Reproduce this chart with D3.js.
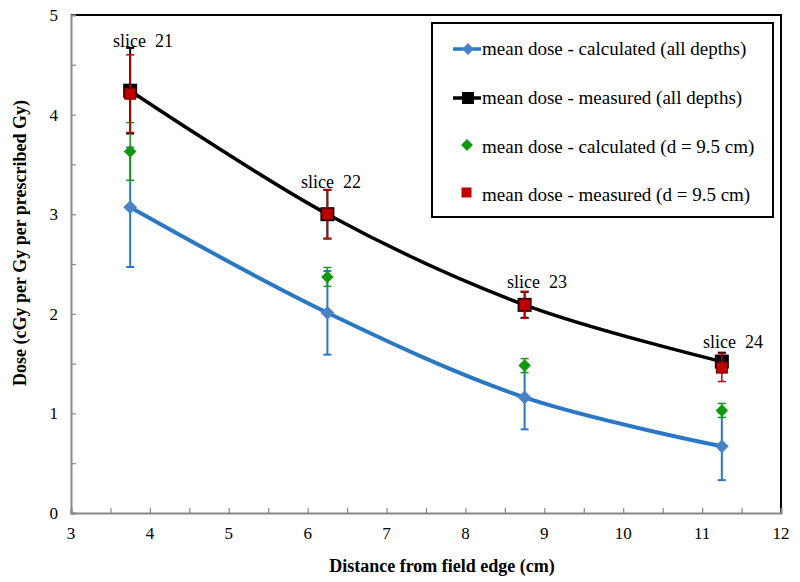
<!DOCTYPE html>
<html><head><meta charset="utf-8">
<script src="https://cdn.jsdelivr.net/npm/d3@7"></script>
<style>
html,body{margin:0;padding:0;background:#fff;}
svg{display:block;}
svg text{font-family:'Liberation Serif',serif !important;}
</style></head>
<body><svg id="fig" width="800" height="582"></svg>
<script>
const distances = [3.75, 6.25, 8.75, 11.25];
const sliceLabels = ["slice  21", "slice  22", "slice  23", "slice  24"];
const calcAll = [3.07, 2.01, 1.16, 0.67];
const calcAllErr = [0.60, 0.42, 0.32, 0.34];
const measAll = [4.24, 3.00, 2.09, 1.52];
const measAllErr = [0.43, 0.245, 0.13, 0.09];
const calc95 = [3.63, 2.37, 1.48, 1.03];
const calc95Err = [0.29, 0.095, 0.07, 0.07];
const meas95 = [4.21, 3.00, 2.09, 1.46];
const meas95Err = [0.39, 0.245, 0.135, 0.14];
const xTicks = [3,4,5,6,7,8,9,10,11,12];
const yTicks = [0,1,2,3,4,5];
const legendLabels = ["mean dose - calculated (all depths)","mean dose - measured (all depths)","mean dose - calculated (d = 9.5 cm)","mean dose - measured (d = 9.5 cm)"];

const FONT = "'Liberation Serif'";
const svg = d3.select("#fig");
const L = 71, R = 781, T = 15, B = 513;
const x = d3.scaleLinear().domain([3,12]).range([L,R]);
const y = d3.scaleLinear().domain([0,5]).range([B,T]);

function txt(sel){ return sel.style("font-family",FONT,"important"); }

// frame top/right (black)
svg.append("path").attr("d",`M${L},${T}H${R}V${B}`).attr("fill","none").attr("stroke","#000").attr("stroke-width",2);

// axes
const gx = svg.append("g").attr("transform",`translate(0,${B})`)
  .call(d3.axisBottom(x).tickValues(d3.range(3,12.01,0.5)).tickSize(-5).tickFormat(""));
const gy = svg.append("g").attr("transform",`translate(${L},0)`)
  .call(d3.axisLeft(y).tickValues(d3.range(0,5.01,0.5)).tickSize(-5).tickFormat(""));
[gx,gy].forEach(g=>{g.selectAll("path").attr("stroke","#888").attr("stroke-width",2);
  g.selectAll("line").attr("stroke","#888").attr("stroke-width",1.2);});
txt(svg.selectAll(".xl").data(xTicks).enter().append("text"))
  .attr("x",d=>x(d)).attr("y",B+26).attr("text-anchor","middle").attr("font-size",17).text(d=>d);
txt(svg.selectAll(".yl").data(yTicks).enter().append("text"))
  .attr("x",L-13).attr("y",d=>y(d)+6).attr("text-anchor","end").attr("font-size",17).text(d=>d);

txt(svg.append("text")).attr("x",442).attr("y",572).attr("text-anchor","middle")
  .attr("font-size",18).attr("font-weight","bold").text("Distance from field edge (cm)");
txt(svg.append("text")).attr("transform","translate(26,243) rotate(-90)").attr("text-anchor","middle")
  .attr("font-size",18).attr("font-weight","bold").text("Dose (cGy per Gy per prescribed Gy)");

const line = d3.line().x((d,i)=>x(distances[i])).y(d=>y(d)).curve(d3.curveCardinal.tension(0));
const blue = "#2a78c4", blueM = "#4a82c6", green = "#0f990f", red = "#c00000";

function errBars(vals, errs, color, cap, w){
  const g = svg.append("g");
  vals.forEach((v,i)=>{
    const cx = x(distances[i]);
    g.append("line").attr("x1",cx).attr("x2",cx).attr("y1",y(v-errs[i])).attr("y2",y(v+errs[i])).attr("stroke",color).attr("stroke-width",w);
    [v-errs[i], v+errs[i]].forEach(e=>g.append("line").attr("x1",cx-cap).attr("x2",cx+cap).attr("y1",y(e)).attr("y2",y(e)).attr("stroke",color).attr("stroke-width",w));
  });
}

// calculated all depths
errBars(calcAll, calcAllErr, blue, 4, 2);
svg.append("path").datum(calcAll).attr("d",line).attr("fill","none").attr("stroke",blue).attr("stroke-width",4);
svg.selectAll(".cb").data(calcAll).enter().append("path")
  .attr("transform",(d,i)=>`translate(${x(distances[i])},${y(d)})`)
  .attr("d",d3.symbol().type(d3.symbolDiamond2).size(120)).attr("fill",blueM);

// measured all depths
errBars(measAll, measAllErr, "#000", 4, 2);
svg.append("path").datum(measAll).attr("d",line).attr("fill","none").attr("stroke","#000").attr("stroke-width",3.5);
svg.selectAll(".mb").data(measAll).enter().append("rect")
  .attr("x",(d,i)=>x(distances[i])-7).attr("y",d=>y(d)-7).attr("width",14).attr("height",14).attr("fill","#000");

// calculated 9.5
errBars(calc95, calc95Err, green, 4, 1.5);
svg.selectAll(".cg").data(calc95).enter().append("path")
  .attr("transform",(d,i)=>`translate(${x(distances[i])},${y(d)})`)
  .attr("d",d3.symbol().type(d3.symbolDiamond2).size(100)).attr("fill",green);

// measured 9.5
errBars(meas95, meas95Err, red, 4, 1.5);
svg.selectAll(".mr").data(meas95).enter().append("rect")
  .attr("x",(d,i)=>x(distances[i])-5.5).attr("y",d=>y(d)-5.5).attr("width",11).attr("height",11)
  .attr("fill",red).attr("stroke","#600").attr("stroke-width",1);

// slice labels
const labelPos = [[143,47],[331,188],[537,288],[733,348]];
txt(svg.selectAll(".sl").data(sliceLabels).enter().append("text"))
  .attr("x",(d,i)=>labelPos[i][0]).attr("y",(d,i)=>labelPos[i][1])
  .attr("text-anchor","middle").attr("font-size",18).style("white-space","pre").text(d=>d);

// legend
const lg = svg.append("g");
lg.append("rect").attr("x",432).attr("y",23).attr("width",341).attr("height",194)
  .attr("fill","#fff").attr("stroke","#000").attr("stroke-width",2);
const ly = [49,98,147,195];
lg.append("line").attr("x1",453).attr("x2",481).attr("y1",ly[0]).attr("y2",ly[0]).attr("stroke",blue).attr("stroke-width",3.5);
lg.append("path").attr("transform",`translate(468,${ly[0]})`).attr("d",d3.symbol().type(d3.symbolDiamond2).size(90)).attr("fill",blueM);
lg.append("line").attr("x1",453).attr("x2",481).attr("y1",ly[1]).attr("y2",ly[1]).attr("stroke","#000").attr("stroke-width",3.5);
lg.append("rect").attr("x",462).attr("y",ly[1]-6).attr("width",12).attr("height",12).attr("fill","#000");
lg.append("path").attr("transform",`translate(467,${ly[2]-2})`).attr("d",d3.symbol().type(d3.symbolDiamond2).size(90)).attr("fill",green);
lg.append("rect").attr("x",461.5).attr("y",ly[3]-7.5).attr("width",10).attr("height",10).attr("fill",red);
txt(lg.selectAll(".lt").data(legendLabels).enter().append("text"))
  .attr("x",482).attr("y",(d,i)=>ly[i]+6).attr("font-size",19).text(d=>d);
</script></body></html>
